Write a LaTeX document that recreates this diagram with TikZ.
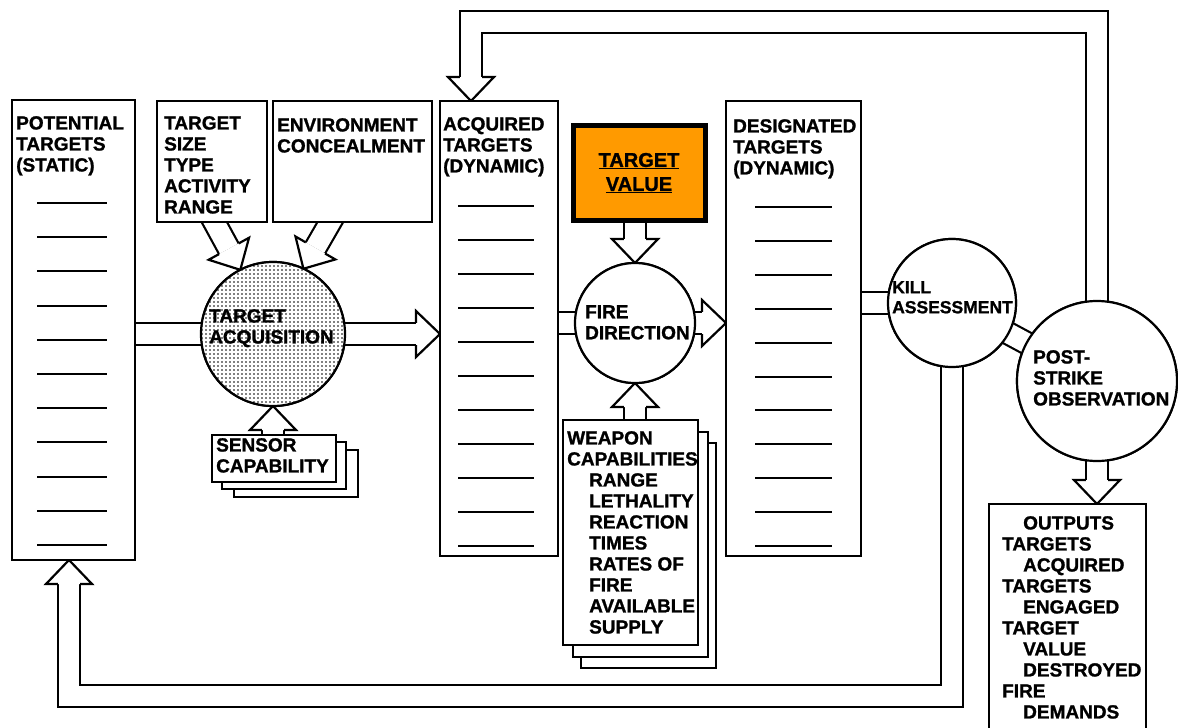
\documentclass[tikz,border=0pt]{standalone}
\usepackage{fontspec}
\setmainfont{Liberation Sans}[BoldFeatures={FakeBold=1.2}]
\usetikzlibrary{calc,positioning,patterns.meta}

\definecolor{tvorange}{HTML}{FF9A00}
\newcommand{\labelfont}{\fontsize{19}{21}\selectfont\bfseries}

\tikzdeclarepattern{
  name=griddots,
  type=uncolored,
  bottom left={(-.1pt,-.1pt)},
  top right={(4.1pt,4.1pt)},
  tile size={(4pt,4pt)},
  code={\fill (2pt,2pt) circle (0.95pt);}
}

% hollow arrow head: #1 point behind the head, #2 tip
\newcommand{\hollowhead}[2]{%
  \coordinate (hb) at ($(#2)!24pt!(#1)$);
  \filldraw[flowline, fill=white] ($(hb)!11.1pt!90:(#2)$) -- ($(hb)!23pt!90:(#2)$) -- (#2)
    -- ($(hb)!23pt!-90:(#2)$) -- ($(hb)!11.1pt!-90:(#2)$);
}
% straight hollow arrow from #1 to #2
\newcommand{\blockarrow}[2]{%
  \coordinate (hb) at ($(#2)!24pt!(#1)$);
  \draw[band] (#1) -- (hb);
  \hollowhead{#1}{#2}
}

\tikzset{
  flowline/.style={line width=2.2pt, line join=miter},
  band/.style={line width=2.2pt, double=white, double distance=20pt},
  listbox/.style={draw, fill=white, line width=2.2pt, inner sep=0pt, outer sep=0pt, anchor=north west},
  stage/.style={draw, circle, fill=white, line width=2.2pt, inner sep=0pt, outer sep=0pt},
  boxtext/.style={anchor=north west, inner sep=0pt, align=left, font=\labelfont},
  entry/.style={line width=2pt},
}

\begin{document}
\begin{tikzpicture}[x=1pt, y=-1pt]
\useasboundingbox (0,0) rectangle (1178,728);

% positions of boxes and stages
\coordinate (potNW) at (12,100);
\coordinate (taC) at (273,334);
\coordinate (fdC) at (635,323);
\coordinate (killC) at (952,303);
\coordinate (psC) at (1097,381);
\path (potNW) node[listbox, minimum width=123pt, minimum height=460pt] (pot) {};
\path (440,101) node[listbox, minimum width=118pt, minimum height=455pt] (acq) {};
\path (726,101) node[listbox, minimum width=135pt, minimum height=455pt] (des) {};
\path (989,504) node[listbox, minimum width=157pt, minimum height=228pt] (outb) {};
\path (taC) node[stage, minimum size=144pt] (ta) {};
\path (fdC) node[stage, minimum size=120pt] (fd) {};
\path (killC) node[stage, minimum size=128pt] (kill) {};
\path (psC) node[stage, minimum size=160pt] (ps) {};

% feedback loops
\coordinate (fbtop) at ($(acq.north west)+(31,0)$);
\coordinate (fbturn) at ($(fbtop)+(0,-79)$);
\coordinate (hb) at ($(fbtop)!24pt!(fbturn)$);
\draw[band] (ps.center) |- (fbturn) -- (hb);
\hollowhead{fbturn}{fbtop}
\coordinate (fbbot) at ($(pot.south west)+(57,0)$);
\coordinate (fbturn2) at (fbbot |- 0,696);
\coordinate (hb) at ($(fbbot)!24pt!(fbturn2)$);
\draw[band] (kill.center) |- (fbturn2) -- (hb);
\hollowhead{fbturn2}{fbbot}

% flow
\draw[band] (ta.center -| pot.east) -- (ta.center);
\blockarrow{ta.center}{ta.center -| acq.west}
\blockarrow{205,205}{ta.117}
\blockarrow{339,207}{ta.65}
\blockarrow{ta.south |- 0,455}{ta.south}
\draw[band] (fd.center -| acq.east) -- (fd.center);
\blockarrow{fd.center}{fd.center -| des.west}
\blockarrow{fd.north |- 0,180}{fd.north}
\blockarrow{fd.south |- 0,440}{fd.south}
\draw[band] (kill.center -| des.east) -- (kill.center);
\draw[band] (kill.center) -- (ps.center);
\blockarrow{ps.center}{ps.center |- outb.north}

% boxes on top of the connectors
\node[listbox, minimum width=123pt, minimum height=460pt] at (potNW) {};
\node[listbox, minimum width=110pt, minimum height=121pt] (tsize) at (157,101) {};
\node[listbox, minimum width=159pt, minimum height=121pt] (env) at (273,101) {};
\node[listbox, minimum width=118pt, minimum height=455pt] at (acq.north west) {};
\node[listbox, minimum width=135pt, minimum height=455pt] at (des.north west) {};
\node[listbox, minimum width=157pt, minimum height=228pt] at (outb.north west) {};
\node[listbox, fill=tvorange, line width=5pt, minimum width=132pt, minimum height=95pt] (tv) at (573,125.5) {};
\foreach \dx/\dy in {22/15,10/7}
  \draw[line width=2.2pt, fill=white] ($(212,435)+(\dx,\dy)$) rectangle ++(124,47);
\node[listbox, minimum width=124pt, minimum height=47pt] (sens) at (212,435) {};
\foreach \dx/\dy in {18/23,10/12}
  \draw[line width=2.2pt, fill=white] ($(563,420)+(\dx,\dy)$) rectangle ++(135,225);
\node[listbox, minimum width=135pt, minimum height=225pt] (weap) at (563,420) {};
\node[stage, minimum size=144pt, preaction={fill=white}, pattern={griddots}, pattern color=black] at (taC) {};
\node[stage, minimum size=120pt] at (fdC) {};
\node[stage, minimum size=128pt] at (killC) {};
\node[stage, minimum size=160pt] at (psC) {};

% list entries
\foreach \i in {0,...,10} {
  \draw[entry] ($(pot.north west)+(25,103+34.2*\i)$) -- ++(70,0);
  \draw[entry] ($(acq.north west)+(18,105+34*\i)$) -- ++(76,0);
  \draw[entry] ($(des.north west)+(29,106+33.9*\i)$) -- ++(77,0);
}

% labels
\node[boxtext] at (16,116) {POTENTIAL\\TARGETS\\(STATIC)};
\node[boxtext] at (164,116) {TARGET\\SIZE\\TYPE\\ACTIVITY\\RANGE};
\node[boxtext] at (277,118) {ENVIRONMENT\\CONCEALMENT};
\node[boxtext] at (443,117) {ACQUIRED\\TARGETS\\(DYNAMIC)};
\node[boxtext] at (733,119) {DESIGNATED\\TARGETS\\(DYNAMIC)};
\node[align=center, inner sep=0pt, font=\fontsize{20}{24}\selectfont\bfseries] at (tv.center) {\underline{TARGET}\\\underline{VALUE}};
\node[boxtext] at (209,309) {TARGET\\ACQUISITION};
\node[boxtext] at (216,438) {SENSOR\\CAPABILITY};
\node[boxtext] at (585,305) {FIRE\\DIRECTION};
\node[boxtext] at (567,431) {WEAPON\\CAPABILITIES\\\hspace*{22pt}RANGE\\\hspace*{22pt}LETHALITY\\\hspace*{22pt}REACTION\\\hspace*{22pt}TIMES\\\hspace*{22pt}RATES OF\\\hspace*{22pt}FIRE\\\hspace*{22pt}AVAILABLE\\\hspace*{22pt}SUPPLY};
\node[boxtext, font=\fontsize{17.5}{20}\selectfont\bfseries] at (892,281) {KILL\\ASSESSMENT};
\node[boxtext] at (1033,350) {POST-\\STRIKE\\OBSERVATION};
\node[boxtext] at (1002,516) {\hspace*{21pt}OUTPUTS\\TARGETS\\\hspace*{21pt}ACQUIRED\\TARGETS\\\hspace*{21pt}ENGAGED\\TARGET\\\hspace*{21pt}VALUE\\\hspace*{21pt}DESTROYED\\FIRE\\\hspace*{21pt}DEMANDS};
\end{tikzpicture}
\end{document}
